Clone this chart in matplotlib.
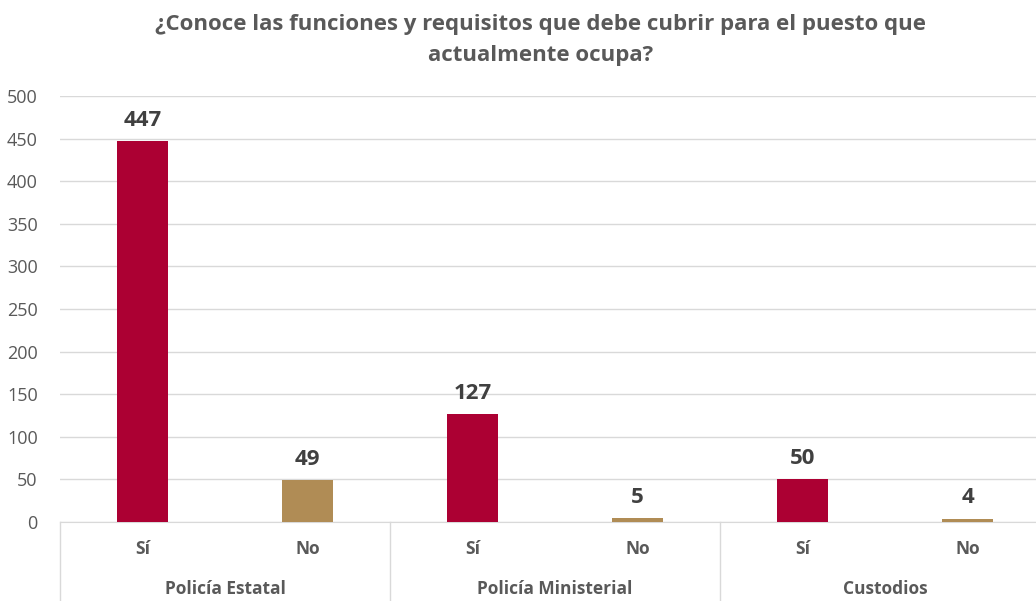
import matplotlib.pyplot as plt

groups = ["Policía Estatal", "Policía Ministerial", "Custodios"]
answers = ["Sí", "No"]
values = [447, 49, 127, 5, 50, 4]
yticks = list(range(0, 501, 50))

plt.rcParams['font.family'] = ['Open Sans', 'DejaVu Sans']
gray = '#595959'
colors = ['#AC0033', '#B08C55']

fig = plt.figure(figsize=(10.36, 6.01), dpi=100)
# axes goes a little past the right edge, like the original
ax = fig.add_axes([60 / 1036, 79 / 601, 990 / 1036, 426 / 601])

x = list(range(len(values)))
bar_colors = [colors[i % 2] for i in x]
ax.bar(x, values, width=0.315, color=bar_colors, zorder=3)

for xi, v in zip(x, values):
    ax.text(xi, v + 12, str(v), ha='center', va='bottom', fontsize=16,
            fontweight='bold', color='#404040')

ax.set_xlim(-0.5, len(values) - 0.5)
ax.set_ylim(0, 500)
ax.set_yticks(yticks)
ax.tick_params(axis='y', length=0, labelsize=13, labelcolor=gray, pad=16)
ax.grid(axis='y', color='#D9D9D9', linewidth=1, zorder=0)
for s in ['top', 'right', 'left']:
    ax.spines[s].set_visible(False)
ax.spines['bottom'].set_color('#D9D9D9')
ax.set_xticks([])

# two-level category axis
for xi in x:
    ax.text(xi, -0.063, answers[xi % 2], transform=ax.get_xaxis_transform(),
            ha='center', va='center', fontsize=12.5, fontweight='bold', color=gray)
for gi, g in enumerate(groups):
    ax.text(2 * gi + 0.5, -0.157, g, transform=ax.get_xaxis_transform(),
            ha='center', va='center', fontsize=12.5, fontweight='bold', color=gray)
for b in range(len(groups) + 1):
    ax.plot([2 * b - 0.5, 2 * b - 0.5], [0, -0.2], transform=ax.get_xaxis_transform(),
            color='#D9D9D9', linewidth=1, clip_on=False)

fig.text(0.522, 0.960, "¿Conoce las funciones y requisitos que debe cubrir para el puesto que",
         ha='center', va='center', fontsize=16, fontweight='bold', color=gray)
fig.text(0.522, 0.907, "actualmente ocupa?",
         ha='center', va='center', fontsize=16, fontweight='bold', color=gray)

fig.savefig('out.png', dpi=100)
